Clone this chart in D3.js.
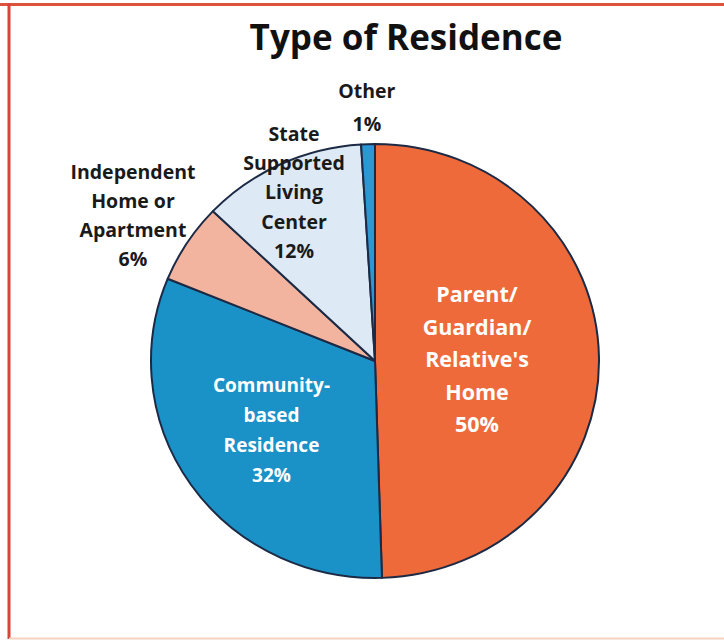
<!DOCTYPE html>
<html>
<head>
<meta charset="utf-8">
<script src="https://cdn.jsdelivr.net/npm/d3@7"></script>
<style>
    body { margin: 0; background: #fff; }
    svg { display: block; }
    text { font-family: "Open Sans", "DejaVu Sans", sans-serif; font-weight: bold; }
</style>
</head>
<body>
<div id="chart"></div>
<script>
// data
const categories = ["Parent/\nGuardian/\nRelative's\nHome", "Community-\nbased\nResidence", "Independent\nHome or\nApartment", "State\nSupported\nLiving\nCenter", "Other"];
const shares = [50, 32, 6, 12, 1];
const shareLabels = ["50%", "32%", "6%", "12%", "1%"];

// look of each slice
const sliceColors = ["#ee6a3a", "#1a91c7", "#f2b49e", "#dde9f4", "#2b98d4"];
const labelColors = ["#fff", "#fff", "#1a1a1a", "#1a1a1a", "#1a1a1a"];
const labelRadius = [102, 126, 285, 192, 262];
const labelTurn = [0, 0, -1.1, 0, 0]; // degrees off the slice middle
const labelSize = [21.5, 19, 19.5, 19.5, 19.5];
const lineGap = [32.5, 30, 29, 29.3, 33];

const width = 724, height = 640;
const cx = 375, cy = 361, radius = 224, squash = 217 / 224;

const svg = d3.select("#chart")
    .append("svg")
    .attr("width", width)
    .attr("height", height);

// frame of the scanned page
svg.append("line").attr("x1", 0).attr("x2", width).attr("y1", 4.5).attr("y2", 4.5)
    .attr("stroke", "#dd523a").attr("stroke-width", 3);
svg.append("line").attr("x1", 9).attr("x2", 9).attr("y1", 3).attr("y2", 639)
    .attr("stroke", "#d8443c").attr("stroke-width", 3);
svg.append("line").attr("x1", 9).attr("x2", width).attr("y1", 638.5).attr("y2", 638.5)
    .attr("stroke", "#f6d2c0").attr("stroke-width", 2);

svg.append("text")
    .attr("x", 406)
    .attr("y", 50)
    .attr("text-anchor", "middle")
    .style("font-size", "35px")
    .attr("fill", "#111")
    .text("Type of Residence");

const data = categories.map((name, i) => ({name, value: shares[i], label: shareLabels[i], i}));

const pie = d3.pie()
    .sort(null)
    .value(d => d.value);
const arcs = pie(data);

const arc = d3.arc().innerRadius(0).outerRadius(radius);

const g = svg.append("g")
    .attr("transform", `translate(${cx},${cy})`);

g.append("g")
    .attr("transform", `scale(1,${squash})`)
    .selectAll("path")
    .data(arcs)
    .join("path")
    .attr("d", arc)
    .attr("fill", d => sliceColors[d.data.i])
    .attr("stroke", "#1c2a45")
    .attr("stroke-width", 2)
    .attr("stroke-linejoin", "round");

// labels: name lines plus the percentage, centred on a point along the slice middle
const labels = g.selectAll("text.lab")
    .data(arcs)
    .join("text")
    .attr("class", "lab")
    .attr("text-anchor", "middle")
    .attr("fill", d => labelColors[d.data.i])
    .style("font-size", d => labelSize[d.data.i] + "px")
    .each(function (d) {
        const k = d.data.i;
        const mid = (d.startAngle + d.endAngle) / 2 + labelTurn[k] * Math.PI / 180;
        const x = Math.sin(mid) * labelRadius[k];
        const y = -Math.cos(mid) * labelRadius[k] * squash;
        const lines = d.data.name.split("\n").concat(d.data.label);
        const top = y - (lines.length - 1) * lineGap[k] / 2 + labelSize[k] * 0.36;
        d3.select(this).selectAll("tspan")
            .data(lines)
            .join("tspan")
            .attr("x", x)
            .attr("y", (s, j) => top + j * lineGap[k])
            .text(s => s);
    });
</script>
</body>
</html>
